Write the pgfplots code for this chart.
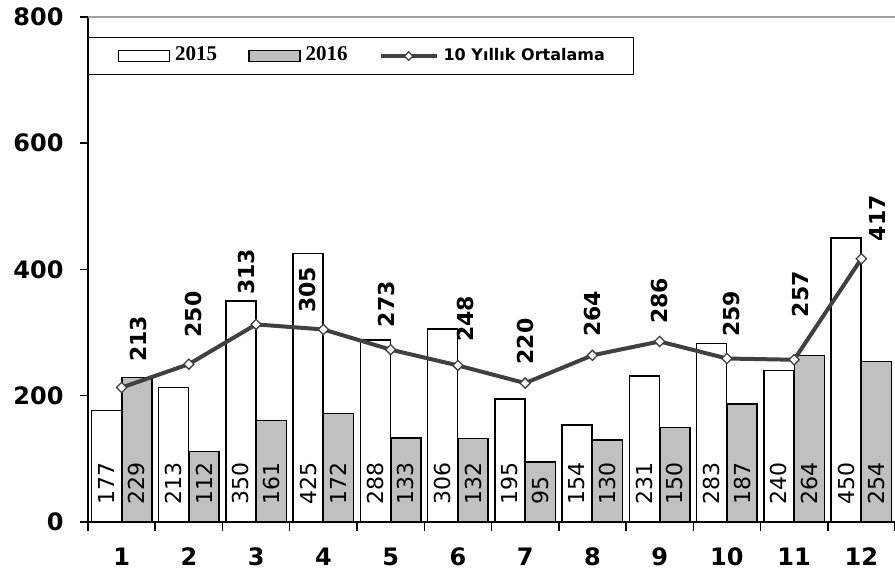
\documentclass[border=0pt]{standalone}
\usepackage{fontspec}
\setmainfont{DejaVu Sans}
\newfontfamily\serifb{Liberation Serif}
\usepackage{pgfplots}
\pgfplotsset{compat=1.18}
\usepackage{pgfplotstable}
\definecolor{linec}{HTML}{404040}
\definecolor{barg}{HTML}{C0C0C0}
\definecolor{topg}{HTML}{A0A0A0}

\pgfplotstableread{
x v15 v16 avg gap dx
1 177 229 213 25 17
2 213 112 250 26 5
3 350 161 313 29 -10
4 425 172 305 16 -16
5 288 133 273 22 -4
6 306 132 248 23 8
7 195 95 220 18 0
8 154 130 264 18 0
9 231 150 286 17 0
10 283 187 259 21 5
11 240 264 257 42 6
12 450 254 417 17 16
}\data

\begin{document}
\begin{tikzpicture}
\begin{axis}[name=ax, scale only axis, width=807pt, height=505pt,
 xmin=0.5, xmax=12.5, ymin=0, ymax=800,
 axis lines=left, axis line style={-, black, line width=1.8pt},
 xtick={1,...,12}, minor xtick={0.5,1.5,...,12.5},
 ytick={0,200,400,600,800},
 extra y ticks={800}, extra y tick labels={},
 extra y tick style={grid=major, major grid style={topg, line width=1.5pt}},
 tick align=outside, major tick length=8pt, minor tick length=9pt,
 tick style={black, line width=1.5pt},
 major x tick style={draw=none},
 ticklabel style={font=\fontsize{24}{28}\selectfont\bfseries},
 xticklabel style={yshift=-14pt},
 yticklabel style={xshift=-13pt},
 /pgf/number format/assume math mode=true,
 clip=false,
 legend columns=3,
 legend cell align=left,
 legend style={at={(0,0.9604)}, anchor=north west, draw=black, line width=1.2pt, fill=white,
   inner xsep=29pt, inner ysep=11pt,
   nodes={inner sep=0pt, text height=12pt, text depth=3pt, anchor=west},
   /tikz/every odd column/.append style={column sep=5pt},
   /tikz/every even column/.append style={column sep=31pt}},
]
\addplot[ybar, bar width=0.445, bar shift=-0.2275, fill=white, draw=black, line width=1.5pt,
  legend image code/.code={\draw[fill=white, draw=black, line width=1.5pt] (0pt,-5.5pt) rectangle (51pt,5.5pt);}]
  table[x=x, y=v15]{\data};
\addlegendentry{\serifb\bfseries\fontsize{21}{24}\selectfont 2015}
\addplot[ybar, bar width=0.445, bar shift=0.2275, fill=barg, draw=black, line width=1.5pt,
  legend image code/.code={\draw[fill=barg, draw=black, line width=1.5pt] (0pt,-5.5pt) rectangle (51pt,5.5pt);}]
  table[x=x, y=v16]{\data};
\addlegendentry{\serifb\bfseries\fontsize{21}{24}\selectfont 2016}
\addplot[linec, line width=4pt, mark=square*, mark size=3.6pt,
  mark options={fill=white, draw=linec, line width=1.3pt, rotate=45},
  legend image code/.code={\draw[linec, line width=4pt] (0pt,0pt) -- (56pt,0pt);
     \draw[linec, fill=white, line width=1.2pt, rotate around={45:(28pt,0pt)}] (25pt,-3pt) rectangle (31pt,3pt);},
  nodes near coords, point meta=explicit symbolic,
  visualization depends on={\thisrow{gap} \as \gap},
  visualization depends on={\thisrow{dx} \as \dx},
  every node near coord/.append style={font=\bfseries\fontsize{22}{26}\selectfont, text=black,
     xshift=\dx pt, anchor=west, rotate=90, inner sep=0pt, inner xsep=\gap pt}]
  table[x=x, y=avg, meta=avg]{\data};
\addlegendentry{\bfseries\fontsize{16}{19}\selectfont 10 Yıllık Ortalama}
\addplot[forget plot, draw=none, mark=none, nodes near coords, point meta=explicit symbolic,
  every node near coord/.append style={font=\fontsize{22}{26}\selectfont, text=black, anchor=west, rotate=90, inner sep=0pt, inner xsep=17pt}]
  table[x expr=\thisrow{x}-0.2275, y expr=0, meta=v15]{\data};
\addplot[forget plot, draw=none, mark=none, nodes near coords, point meta=explicit symbolic,
  every node near coord/.append style={font=\fontsize{22}{26}\selectfont, text=black, anchor=west, rotate=90, inner sep=0pt, inner xsep=17pt}]
  table[x expr=\thisrow{x}+0.2275, y expr=0, meta=v16]{\data};
\end{axis}
\pgfresetboundingbox
\path ([xshift=-88pt,yshift=-56pt]ax.south west) rectangle ([yshift=17pt]ax.north east);
\end{tikzpicture}
\end{document}
